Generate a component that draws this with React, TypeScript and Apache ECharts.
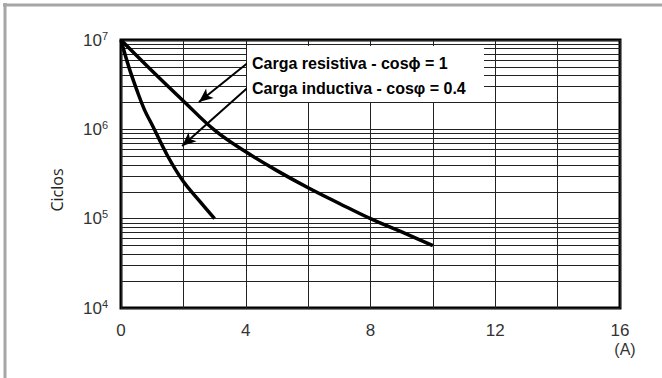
import React, { useEffect, useRef } from "react";
import * as echarts from "echarts";

// Curve data (x in A, y in cycles)
const xResistive = [0, 1, 2, 3, 4, 5, 6, 7, 8, 9, 10];
const yResistive = [1e7, 4.5e6, 2.08e6, 9.8e5, 5.6e5, 3.45e5, 2.22e5, 1.48e5, 1.0e5, 7.1e4, 5.0e4];

const xInductive = [0, 0.25, 0.5, 0.75, 1, 1.5, 2, 2.5, 3];
const yInductive = [1e7, 5.0e6, 2.8e6, 1.66e6, 1.12e6, 5.0e5, 2.6e5, 1.6e5, 1.0e5];

// Axis settings
const xTickLabels = [0, 4, 8, 12, 16];
const yDecadeExps = [4, 5, 6, 7];
const minorMultipliers = [2, 3, 4, 5, 6, 7, 8, 9];

// Annotation arrows: [start, end] in data coordinates
const arrowResistive = [[4.05, 5.5e6], [2.5, 2.02e6]];
const arrowInductive = [[4.05, 2.9e6], [1.96, 6.5e5]];

const labelResistive = "Carga resistiva - cos\u03d5 = 1";
const labelInductive = "Carga inductiva - cos\u03c6 = 0.4";

export default function App() {
  const ref = useRef<HTMLDivElement>(null);

  useEffect(() => {
    if (!ref.current) return;
    const chart = echarts.init(ref.current, undefined, { renderer: "svg" });

    const minorValues: number[] = [];
    yDecadeExps.slice(0, -1).forEach((e) => {
      minorMultipliers.forEach((m) => minorValues.push(m * Math.pow(10, e)));
    });

    const gridColor = "#222";
    const font = '"Liberation Sans", Arial, sans-serif';

    chart.setOption({
      animation: false,
      backgroundColor: "#fff",
      grid: {
        left: 121,
        top: 40,
        right: 42,
        bottom: 70,
        show: true,
        borderColor: "#000",
        borderWidth: 3,
        backgroundColor: "transparent",
      },
      xAxis: {
        type: "value",
        min: 0,
        max: 16,
        interval: 2,
        axisLine: { show: false },
        axisTick: { show: false },
        axisLabel: {
          margin: 14,
          fontFamily: font,
          fontSize: 17,
          color: "#333",
          formatter: (v: number) => (xTickLabels.includes(v) ? String(v) : ""),
        },
        splitLine: { show: true, lineStyle: { color: gridColor, width: 1 } },
      },
      yAxis: {
        type: "log",
        logBase: 10,
        min: 1e4,
        max: 1e7,
        axisLine: { show: false },
        axisTick: { show: false },
        axisLabel: {
          margin: 13,
          formatter: (v: number) => `{b|10}{s|${Math.round(Math.log10(v))}}`,
          rich: {
            b: { fontFamily: font, fontSize: 17, color: "#333" },
            s: { fontFamily: font, fontSize: 11, color: "#333", padding: [0, 0, 9, 0] },
          },
        },
        splitLine: { show: true, lineStyle: { color: gridColor, width: 1 } },
      },
      series: [
        {
          type: "line",
          name: "grid",
          data: [],
          silent: true,
          z: 1,
          markLine: {
            silent: true,
            symbol: "none",
            label: { show: false },
            lineStyle: { color: gridColor, width: 1, type: "solid" },
            emphasis: { disabled: true },
            data: minorValues.map((v) => ({ yAxis: v })),
          },
        },
        {
          type: "line",
          name: "resistiva",
          data: xResistive.map((x, i) => [x, yResistive[i]]),
          smooth: 0.4,
          symbol: "none",
          lineStyle: { color: "#000", width: 3.5 },
          z: 5,
        },
        {
          type: "line",
          name: "inductiva",
          data: xInductive.map((x, i) => [x, yInductive[i]]),
          smooth: 0.4,
          symbol: "none",
          lineStyle: { color: "#000", width: 3.5 },
          z: 5,
        },
        {
          type: "line",
          name: "arrows",
          data: [],
          z: 6,
          markLine: {
            silent: true,
            symbol: ["none", "arrow"],
            symbolSize: [9, 14],
            label: { show: false },
            lineStyle: { color: "#000", width: 2, type: "solid" },
            emphasis: { disabled: true },
            data: [
              [{ coord: arrowResistive[0] }, { coord: arrowResistive[1] }],
              [{ coord: arrowInductive[0] }, { coord: arrowInductive[1] }],
            ],
          },
        },
      ],
      graphic: [
        {
          type: "line",
          z: 100,
          shape: { x1: 3, y1: 5, x2: 662, y2: 5 },
          style: { stroke: "#a6a6a6", lineWidth: 3 },
        },
        {
          type: "line",
          z: 100,
          shape: { x1: 5, y1: 3, x2: 5, y2: 378 },
          style: { stroke: "#a6a6a6", lineWidth: 3 },
        },
        {
          type: "rect",
          z: 100,
          shape: { x: 247, y: 46, width: 237, height: 56 },
          style: { fill: "#fff" },
        },
        {
          type: "text",
          z: 101,
          x: 252,
          y: 63,
          style: {
            text: labelResistive,
            fontFamily: '"Liberation Sans Narrow", "Liberation Sans", sans-serif',
            fontWeight: "bold",
            fontSize: 16,
            fill: "#000",
            verticalAlign: "middle",
          },
        },
        {
          type: "text",
          z: 101,
          x: 252,
          y: 88,
          style: {
            text: labelInductive,
            fontFamily: '"Liberation Sans Narrow", "Liberation Sans", sans-serif',
            fontWeight: "bold",
            fontSize: 16,
            fill: "#000",
            verticalAlign: "middle",
          },
        },
        {
          type: "text",
          z: 101,
          x: 625,
          y: 349,
          style: {
            text: "(A)",
            fontFamily: font,
            fontSize: 16,
            fill: "#333",
            align: "center",
            verticalAlign: "middle",
          },
        },
        {
          type: "text",
          z: 101,
          x: 57,
          y: 190,
          rotation: Math.PI / 2,
          style: {
            text: "Ciclos",
            fontFamily: '"Open Sans", sans-serif',
            fontSize: 16,
            fill: "#222",
            align: "center",
            verticalAlign: "middle",
          },
        },
      ],
    });

    return () => chart.dispose();
  }, []);

  return (
    <div
      ref={ref}
      style={{ position: "absolute", left: 0, top: 0, width: 662, height: 378 }}
    />
  );
}
